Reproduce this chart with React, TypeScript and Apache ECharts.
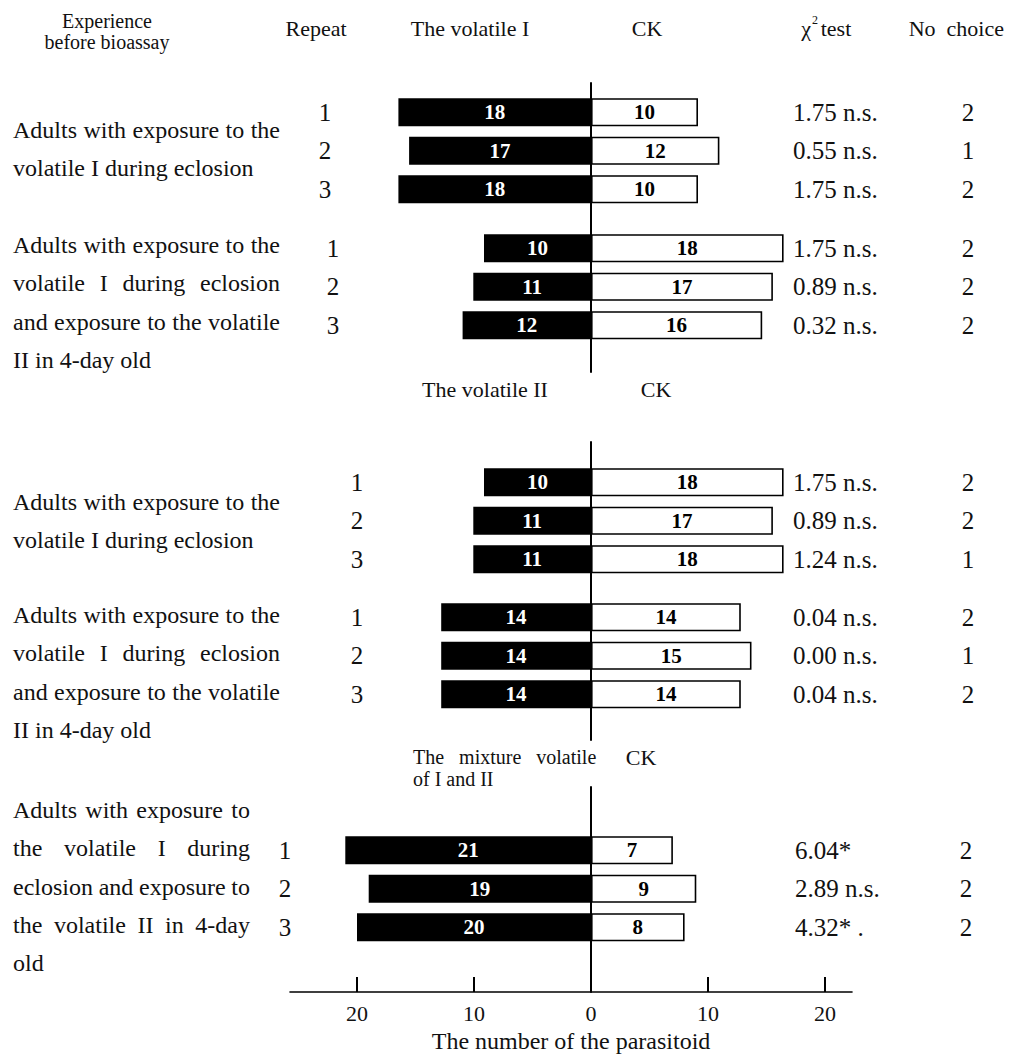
import React, { useEffect, useRef } from "react";
import * as echarts from "echarts";

// ---------- data ----------
const repeatLabels = ["1", "2", "3"];

const g1Volatile = [18, 17, 18];
const g1CK = [10, 12, 10];
const g1Chi = ["1.75 n.s.", "0.55 n.s.", "1.75 n.s."];
const g1NoChoice = ["2", "1", "2"];

const g2Volatile = [10, 11, 12];
const g2CK = [18, 17, 16];
const g2Chi = ["1.75 n.s.", "0.89 n.s.", "0.32 n.s."];
const g2NoChoice = ["2", "2", "2"];

const g3Volatile = [10, 11, 11];
const g3CK = [18, 17, 18];
const g3Chi = ["1.75 n.s.", "0.89 n.s.", "1.24 n.s."];
const g3NoChoice = ["2", "2", "1"];

const g4Volatile = [14, 14, 14];
const g4CK = [14, 15, 14];
const g4Chi = ["0.04 n.s.", "0.00 n.s.", "0.04 n.s."];
const g4NoChoice = ["2", "1", "2"];

const g5Volatile = [21, 19, 20];
const g5CK = [7, 9, 8];
const g5Chi = ["6.04*", "2.89 n.s.", "4.32* ."];
const g5NoChoice = ["2", "2", "2"];

const axisTickValues = [-20, -10, 0, 10, 20];
const axisTitle = "The number of the parasitoid";

const paraShort = ["Adults with exposure to the", "volatile I during eclosion"];
const paraLong = [
  "Adults with exposure to the",
  "volatile I during eclosion",
  "and exposure to the volatile",
  "II in 4-day old",
];
const paraMixture = [
  "Adults with exposure to",
  "the volatile I during",
  "eclosion and exposure to",
  "the volatile II in 4-day",
  "old",
];

// ---------- layout ----------
const W = 1013;
const H = 1062;
const X0 = 591; // pixel x of value 0
const K12 = 10.7; // px per unit, sections 1 & 2
const K3 = 11.7; // px per unit, section 3
const ROW = 38.5;
const FONT = "Liberation Serif";
const INK = "#111";

const groups = [
  { vol: g1Volatile, ck: g1CK, chi: g1Chi, none: g1NoChoice, top: 93, repX: 325, chiX: 793, noneX: 968, k: K12 },
  { vol: g2Volatile, ck: g2CK, chi: g2Chi, none: g2NoChoice, top: 229, repX: 333, chiX: 793, noneX: 968, k: K12 },
  { vol: g3Volatile, ck: g3CK, chi: g3Chi, none: g3NoChoice, top: 463, repX: 357, chiX: 793, noneX: 968, k: K12 },
  { vol: g4Volatile, ck: g4CK, chi: g4Chi, none: g4NoChoice, top: 598, repX: 357, chiX: 793, noneX: 968, k: K12 },
  { vol: g5Volatile, ck: g5CK, chi: g5Chi, none: g5NoChoice, top: 831, repX: 285, chiX: 795, noneX: 966, k: K3 },
];

const sections = [
  { top: 83, bottom: 372, k: K12, axis: false },
  { top: 442, bottom: 740, k: K12, axis: false },
  { top: 787, bottom: 992, k: K3, axis: true },
];
const AXIS_L = 290;
const AXIS_R = 852;

let measureCtx: CanvasRenderingContext2D | null = null;
function measure(text: string, font: string) {
  if (!measureCtx) measureCtx = document.createElement("canvas").getContext("2d");
  measureCtx!.font = font;
  return measureCtx!.measureText(text).width;
}

function paragraph(lines: string[], x: number, y0: number, width: number, size: number) {
  const font = `${size}px "${FONT}"`;
  const els: any[] = [];
  lines.forEach((line, i) => {
    const y = y0 + i * 38.3;
    const words = line.split(" ");
    const last = i === lines.length - 1;
    if (last || words.length < 2) {
      els.push({ type: "text", x, y, style: { text: line, font, fill: INK, verticalAlign: "middle" } });
      return;
    }
    const ws = words.map((w) => measure(w, font));
    const total = ws.reduce((a, b) => a + b, 0);
    const gap = (width - total) / (words.length - 1);
    let cx = x;
    words.forEach((w, j) => {
      els.push({ type: "text", x: cx, y, style: { text: w, font, fill: INK, verticalAlign: "middle" } });
      cx += ws[j] + gap;
    });
  });
  return els;
}

function txt(text: string, x: number, y: number, size: number, align = "center", extra: any = {}) {
  return {
    type: "text",
    x,
    y,
    style: { text, font: `${size}px "${FONT}"`, fill: INK, align, verticalAlign: "middle", ...extra },
  };
}

export default function App() {
  const ref = useRef<HTMLDivElement>(null);
  useEffect(() => {
    const chart = echarts.init(ref.current!, null, { renderer: "svg" });

    const grid: any[] = [];
    const xAxis: any[] = [];
    const yAxis: any[] = [];
    const series: any[] = [];

    const labelStyle = { fontFamily: FONT, fontSize: 25, color: INK };

    groups.forEach((g) => {
      const gi = grid.length;
      const left = g.repX + 12;
      const right = g.chiX - 4;
      grid.push({ left, width: right - left, top: g.top, height: ROW * 3 });
      xAxis.push({
        type: "value",
        gridIndex: gi,
        min: (left - X0) / g.k,
        max: (right - X0) / g.k,
        show: false,
      });
      const yRep = yAxis.length;
      yAxis.push({
        type: "category",
        gridIndex: gi,
        data: repeatLabels,
        inverse: true,
        position: "left",
        axisLine: { show: false },
        axisTick: { show: false },
        axisLabel: { ...labelStyle, margin: 12, align: "center" },
      });
      yAxis.push({
        type: "category",
        gridIndex: gi,
        data: g.chi,
        inverse: true,
        position: "right",
        axisLine: { show: false },
        axisTick: { show: false },
        axisLabel: { ...labelStyle, margin: 4, align: "left" },
      });
      yAxis.push({
        type: "category",
        gridIndex: gi,
        data: g.none,
        inverse: true,
        position: "right",
        offset: g.noneX - right,
        axisLine: { show: false },
        axisTick: { show: false },
        axisLabel: { ...labelStyle, margin: 0, align: "center" },
      });
      const barLabel = {
        show: true,
        position: "inside",
        fontFamily: FONT,
        fontWeight: "bold",
        fontSize: 21,
        formatter: (p: any) => String(Math.abs(p.value)),
      };
      series.push({
        type: "bar",
        name: "volatile",
        xAxisIndex: gi,
        yAxisIndex: yRep,
        data: g.vol.map((v) => -v),
        barWidth: 28,
        barGap: "-100%",
        clip: false,
        itemStyle: { color: "#000" },
        label: { ...barLabel, color: "#fff" },
      });
      series.push({
        type: "bar",
        name: "CK",
        xAxisIndex: gi,
        yAxisIndex: yRep,
        data: g.ck,
        barWidth: 28,
        barGap: "-100%",
        clip: false,
        itemStyle: { color: "#fff", borderColor: "#000", borderWidth: 1.6 },
        label: { ...barLabel, color: "#000" },
      });
    });

    sections.forEach((s) => {
      const gi = grid.length;
      grid.push({ left: AXIS_L, width: AXIS_R - AXIS_L, top: s.top, height: s.bottom - s.top });
      xAxis.push({
        type: "value",
        gridIndex: gi,
        min: (AXIS_L - X0) / s.k,
        max: (AXIS_R - X0) / s.k,
        show: s.axis,
        axisLine: { show: s.axis, onZero: false, lineStyle: { color: "#000", width: 1.6 } },
        axisTick: {
          show: s.axis,
          inside: true,
          length: 15,
          customValues: axisTickValues,
          lineStyle: { color: "#000", width: 2 },
        },
        axisLabel: {
          show: s.axis,
          customValues: axisTickValues,
          formatter: (v: number) => String(Math.abs(v)),
          fontFamily: FONT,
          fontSize: 22,
          color: INK,
          margin: 10,
        },
        splitLine: { show: false },
        name: s.axis ? axisTitle : "",
        nameLocation: "middle",
        nameGap: 37,
        nameTextStyle: { fontFamily: FONT, fontSize: 24, color: INK },
      });
      yAxis.push({
        type: "value",
        gridIndex: gi,
        min: 0,
        max: 1,
        axisLine: { show: true, onZero: true, lineStyle: { color: "#000", width: 2 } },
        axisTick: { show: false },
        axisLabel: { show: false },
        splitLine: { show: false },
      });
    });

    const graphic: any[] = [
      txt("Experience\nbefore bioassay", 107, 31, 20, "center", { lineHeight: 21 }),
      txt("Repeat", 316, 28, 22),
      txt("The volatile I", 470, 28, 22),
      txt("CK", 647, 28, 22),
      txt("χ", 806, 28, 22),
      txt("2", 815, 20, 12),
      txt("test", 836, 28, 22),
      txt("No  choice", 1004, 28, 22, "right"),
      txt("The volatile II", 485, 389, 22),
      txt("CK", 656, 389, 22),
      txt("The   mixture   volatile\nof I and II", 413, 768, 20, "left", { lineHeight: 22 }),
      txt("CK", 641, 757, 22),
      ...paragraph(paraShort, 13, 130, 267, 24),
      ...paragraph(paraLong, 13, 245, 267, 24),
      ...paragraph(paraShort, 13, 502, 267, 24),
      ...paragraph(paraLong, 13, 615, 267, 24),
      ...paragraph(paraMixture, 13, 810, 237, 24),
    ];

    chart.setOption({
      animation: false,
      backgroundColor: "#fff",
      textStyle: { fontFamily: FONT },
      grid,
      xAxis,
      yAxis,
      series,
      graphic,
    });
    return () => chart.dispose();
  }, []);
  return <div ref={ref} style={{ width: W, height: H, margin: -8 }} />;
}
